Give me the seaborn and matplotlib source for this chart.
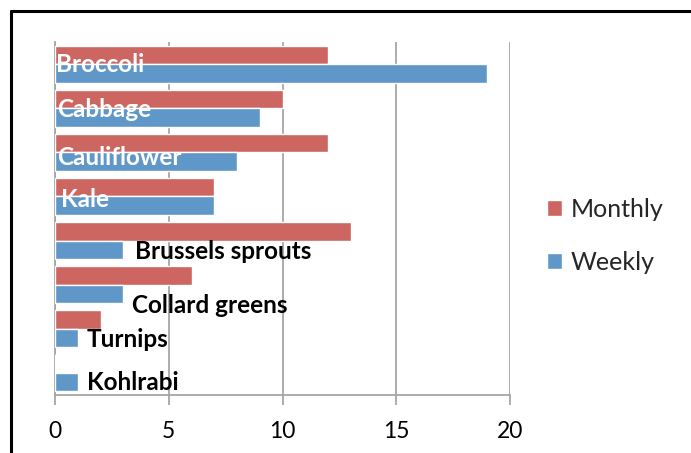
import matplotlib
matplotlib.use("Agg")
import matplotlib.pyplot as plt
import seaborn as sns
import pandas as pd
from matplotlib.lines import Line2D

categories = ["Broccoli", "Cabbage", "Cauliflower", "Kale",
              "Brussels sprouts", "Collard greens", "Turnips", "Kohlrabi"]
monthly = [12, 10, 12, 7, 13, 6, 2, 0]
weekly = [19, 9, 8, 7, 3, 3, 1, 1]
series_names = ["Monthly", "Weekly"]
x_ticks = [0, 5, 10, 15, 20]

# data-label placement (as in the original chart)
label_x = [0.05, 0.1, 0.1, 0.25, 3.5, 3.4, 1.4, 1.4]
label_dy = [0.0, 0.03, 0.12, 0.07, 0.24, 0.47, 0.25, 0.22]
label_colors = ["white", "white", "white", "white", "black", "black", "black", "black"]

df = pd.DataFrame({
    "Vegetable": categories * 2,
    "Series": [series_names[0]] * len(categories) + [series_names[1]] * len(categories),
    "Value": monthly + weekly,
})

sns.set_theme(style="white")
plt.rcParams["font.family"] = ["Lato", "DejaVu Sans"]

fig = plt.figure(figsize=(6.91, 4.53), dpi=100)
ax = fig.add_axes([55 / 691, 1 - 395 / 453, (510 - 55) / 691, (395 - 42) / 453])

palette = {"Monthly": "#CD6661", "Weekly": "#6097C9"}
sns.barplot(data=df, y="Vegetable", x="Value", hue="Series", order=categories,
            hue_order=series_names, palette=palette, orient="h", width=0.84,
            gap=0, saturation=1, ax=ax, legend=True, zorder=3)

ax.set_xlim(0, 20)
ax.set_ylim(len(categories) - 0.5, -0.5)
ax.set_xticks(x_ticks)
ax.set_xticklabels([str(t) for t in x_ticks], fontsize=16.5, color="black")
ax.set_yticks([])
ax.set_xlabel("")
ax.set_ylabel("")
ax.grid(axis="x", color="#A6A6A6", linewidth=1.3, zorder=0)
ax.set_axisbelow(True)
for s in ["top", "right"]:
    ax.spines[s].set_visible(False)
for s in ["left", "bottom"]:
    ax.spines[s].set_color("#A6A6A6")
    ax.spines[s].set_linewidth(1.3)
ax.tick_params(axis="x", direction="out", length=7, width=1.3, color="#A6A6A6",
               pad=12, bottom=True)

for i, name in enumerate(categories):
    ax.text(label_x[i], i + label_dy[i], name, fontsize=17.5, fontweight="bold",
            color=label_colors[i], va="center", ha="left", zorder=5)

leg = ax.legend(loc="center left", bbox_to_anchor=(1.081, 0.45), frameon=False,
                fontsize=18, handlelength=0.6, handleheight=0.6,
                handletextpad=0.35, labelspacing=1.2, borderaxespad=0, borderpad=0)

# chart-area border (top and left edges visible in crop)
fig.add_artist(Line2D([11 / 691, 11 / 691], [0, 1 - 11 / 453], transform=fig.transFigure,
                      color="black", linewidth=2.2))
fig.add_artist(Line2D([11 / 691, 1], [1 - 11 / 453, 1 - 11 / 453], transform=fig.transFigure,
                      color="black", linewidth=2.2))

fig.savefig("out.png", dpi=100)
